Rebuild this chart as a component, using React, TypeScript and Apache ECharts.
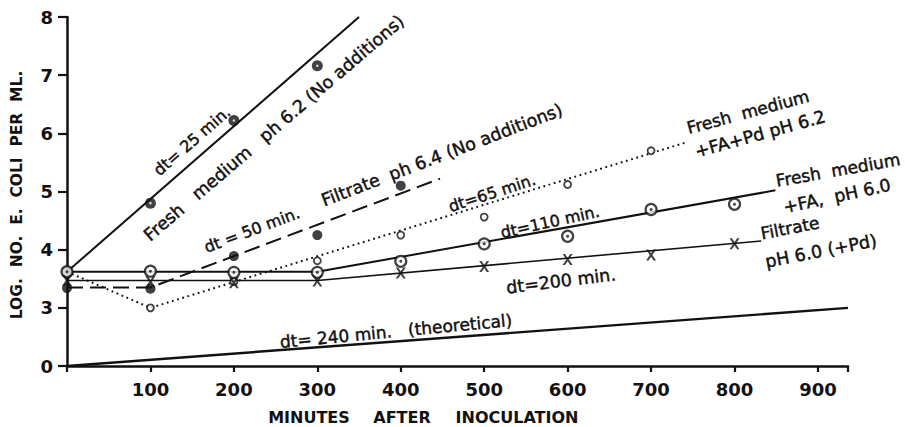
import React, { useEffect, useRef } from "react";
import * as echarts from "echarts";

// ---- data (minutes after inoculation, log no. E. coli per ml) ----
const freshNoAddX = [0, 100, 200, 300];
const freshNoAddY = [3.62, 4.8, 6.22, 7.16];
const freshNoAddFitX = [0, 350];
const freshNoAddFitY = [3.62, 8.0];

const filtrate64X = [0, 100, 200, 300, 400];
const filtrate64Y = [3.34, 3.33, 3.89, 4.25, 5.1];
const filtrate64FitX = [0, 100, 447];
const filtrate64FitY = [3.35, 3.35, 5.22];

const faPd62X = [100, 200, 300, 400, 500, 600, 700];
const faPd62Y = [3.0, 3.45, 3.81, 4.25, 4.56, 5.12, 5.7];
const faPd62FitX = [0, 100, 741];
const faPd62FitY = [3.62, 3.0, 5.84];

const fa60X = [0, 100, 200, 300, 400, 500, 600, 700, 800];
const fa60Y = [3.62, 3.63, 3.61, 3.61, 3.8, 4.1, 4.23, 4.69, 4.78];
const fa60FitX = [0, 300, 849];
const fa60FitY = [3.62, 3.62, 5.02];

const filtratePdX = [0, 100, 200, 300, 400, 500, 600, 700, 800];
const filtratePdY = [3.47, 3.45, 3.43, 3.46, 3.6, 3.71, 3.83, 3.91, 4.1];
const filtratePdFitX = [0, 300, 832];
const filtratePdFitY = [3.47, 3.47, 4.15];

const theoreticalX = [0, 936];
const theoreticalY = [0, 3.0];

const yTickValues = [0, 3, 4, 5, 6, 7, 8];
const xTitleWords = ["MINUTES", "AFTER", "INOCULATION"];
const yTitle = "LOG.  NO.  E.  COLI  PER  ML.";

// broken y axis: 0..3 squeezed into one unit
const toD = (v: number) => (v >= 3 ? v - 2 : v / 3);
const pairs = (xs: number[], ys: number[]) => xs.map((x, i) => [x, toD(ys[i])]);

const FONT = "DejaVu Sans";
const INK = "#111";
const X_PATH =
  "path://M0,0 L2.4,0 L5,3.4 L7.6,0 L10,0 L6.3,5 L10,10 L7.6,10 L5,6.6 L2.4,10 L0,10 L3.7,5 Z";

export default function App() {
  const ref = useRef<HTMLDivElement>(null);
  useEffect(() => {
    const chart = echarts.init(ref.current!, null, { renderer: "svg" });
    const deg = (a: number) => (a * Math.PI) / 180;
    const label = (
      text: string,
      x: number,
      y: number,
      rot: number,
      size = 17,
      weight: any = "normal"
    ) => ({
      type: "text",
      x,
      y,
      rotation: deg(rot),
      style: {
        text,
        fill: INK,
        stroke: weight === "bold" ? undefined : INK,
        lineWidth: weight === "bold" ? 0 : 0.45,
        font: `${weight} ${size}px "${FONT}"`,
        align: "center",
        verticalAlign: "middle",
      },
    });
    const fitLine = (xs: number[], ys: number[], type: any, width = 2) => ({
      type: "line",
      data: pairs(xs, ys),
      symbol: "none",
      lineStyle: { color: INK, width, type },
      silent: true,
      z: 2,
    });
    const xTitleCenters = [309, 402, 517];
    const option: any = {
      animation: false,
      backgroundColor: "#fff",
      grid: { left: 67, right: 57, top: 17, bottom: 61, containLabel: false },
      xAxis: {
        type: "value",
        min: 0,
        max: 936,
        interval: 100,
        axisLine: { lineStyle: { color: INK, width: 2.5 } },
        axisTick: { length: 6, lineStyle: { color: INK, width: 2.2 } },
        axisLabel: {
          color: INK,
          fontFamily: FONT,
          fontWeight: "bold",
          fontSize: 18,
          margin: 14,
          formatter: (v: number) => (v === 0 || v > 900 ? "" : String(v)),
        },
        splitLine: { show: false },
      },
      yAxis: {
        type: "value",
        min: 0,
        max: 6,
        interval: 1,
        axisLine: { show: true, lineStyle: { color: INK, width: 2.5 } },
        axisTick: { show: true, length: 9, lineStyle: { color: INK, width: 2.2 } },
        axisLabel: {
          color: INK,
          fontFamily: FONT,
          fontWeight: "bold",
          fontSize: 18,
          margin: 14,
          formatter: (d: number) => String(yTickValues[d] ?? ""),
        },
        splitLine: { show: false },
      },
      series: [
        fitLine(freshNoAddFitX, freshNoAddFitY, "solid"),
        fitLine(filtrate64FitX, filtrate64FitY, [16, 7]),
        fitLine(faPd62FitX, faPd62FitY, [1.8, 3.6], 2),
        fitLine(fa60FitX, fa60FitY, "solid"),
        fitLine(filtratePdFitX, filtratePdFitY, "solid", 1.6),
        fitLine(theoreticalX, theoreticalY, "solid", 2.4),
        {
          type: "scatter",
          data: pairs(freshNoAddX, freshNoAddY),
          symbol: "circle",
          symbolSize: 11,
          itemStyle: { color: INK },
          z: 5,
        },
        {
          type: "scatter",
          data: pairs(freshNoAddX, freshNoAddY),
          symbol: "circle",
          symbolSize: 2.5,
          itemStyle: { color: "#fff" },
          z: 6,
        },
        {
          type: "scatter",
          data: pairs(filtrate64X, filtrate64Y),
          symbol: "circle",
          symbolSize: 10,
          itemStyle: { color: INK },
          z: 5,
        },
        {
          type: "scatter",
          data: pairs(faPd62X, faPd62Y),
          symbol: "circle",
          symbolSize: 7,
          itemStyle: { color: "#fff", borderColor: INK, borderWidth: 1.8 },
          z: 5,
        },
        {
          type: "scatter",
          data: pairs(fa60X, fa60Y),
          symbol: "circle",
          symbolSize: 11,
          itemStyle: { color: "#fff", borderColor: INK, borderWidth: 2.2 },
          z: 5,
        },
        {
          type: "scatter",
          data: pairs(fa60X, fa60Y),
          symbol: "circle",
          symbolSize: 3,
          itemStyle: { color: INK },
          z: 6,
        },
        {
          type: "scatter",
          data: pairs(filtratePdX, filtratePdY),
          symbol: X_PATH,
          symbolSize: [10, 11],
          itemStyle: { color: INK },
          z: 5,
        },
      ],
      graphic: [
        label("dt= 25 min.", 192, 141, 41, 16),
        label("Fresh   medium   ph 6.2 (No additions)", 274, 128, 40.6, 17.5),
        label("dt = 50 min.", 252, 230, 20.8, 16),
        label("Filtrate  ph 6.4 (No additions)", 442, 155, 21, 17.5),
        label("dt=65 min.", 492, 193, 18, 16),
        label("dt=110 min.", 550, 222, 12.6, 16),
        label("dt=200 min.", 561, 281, 7, 17.5),
        label("dt= 240 min.   (theoretical)", 396, 331, 5.4, 17),
        label("Fresh  medium", 748, 112, 15, 17),
        label("+FA+Pd pH 6.2", 760, 134, 15.5, 17.5),
        label("Fresh  medium", 838, 170, 10, 17),
        label("+FA,  pH 6.0", 837, 196, 12, 17.5),
        label("Filtrate", 790, 228, 11, 17),
        label("pH 6.0 (+Pd)", 821, 251, 11, 17.5),
        ...xTitleWords.map((w, i) => label(w, xTitleCenters[i], 417, 0, 16, "bold")),
        label(yTitle, 17, 195, 90, 15.5, "bold"),
      ],
    };
    chart.setOption(option);
    return () => chart.dispose();
  }, []);
  return (
    <div
      ref={ref}
      style={{ position: "fixed", left: 0, top: 0, width: 905, height: 427, background: "#fff" }}
    />
  );
}
